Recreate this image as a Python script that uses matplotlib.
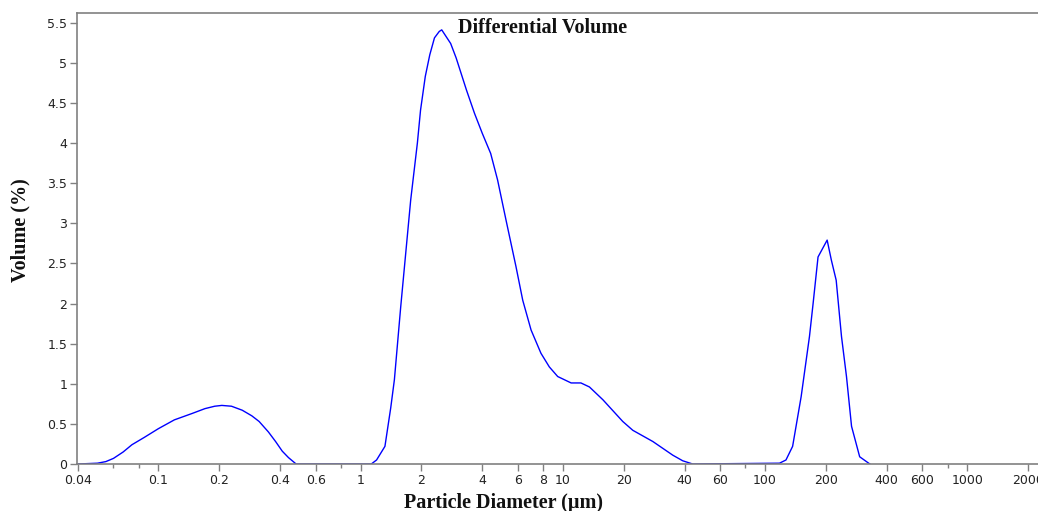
import numpy as np
import matplotlib.pyplot as plt
from matplotlib.ticker import FixedLocator, NullFormatter

# Diâmetro de partícula (µm) e volume diferencial (%)
diametro = [0.04, 0.05, 0.055, 0.06, 0.067, 0.074, 0.085, 0.1, 0.12, 0.147, 0.17, 0.19, 0.206,
            0.23, 0.26, 0.29, 0.315, 0.35, 0.38, 0.41, 0.44, 0.48,
            1.13, 1.2, 1.32, 1.41, 1.47, 1.58, 1.77, 1.91, 1.98, 2.09, 2.2, 2.32, 2.45, 2.52,
            2.79, 2.97, 3.34, 3.66, 4.0, 4.4, 4.76, 5.24, 5.87, 6.34, 6.97, 7.8,
            8.58, 9.44, 11.0, 12.3, 13.55, 15.8, 19.8, 22.2, 27.9, 35.0, 39.2, 43.9,
            118, 127, 137, 151, 166, 173, 183, 203, 213, 225, 239, 253, 268, 294, 330]
volume = [0.0, 0.01, 0.03, 0.07, 0.15, 0.24, 0.33, 0.44, 0.55, 0.63, 0.69, 0.72, 0.73,
          0.72, 0.67, 0.6, 0.53, 0.4, 0.28, 0.16, 0.08, 0.0,
          0.0, 0.05, 0.22, 0.7, 1.05, 1.96, 3.29, 4.0, 4.41, 4.83, 5.1, 5.31, 5.39, 5.41,
          5.24, 5.06, 4.66, 4.37, 4.12, 3.87, 3.54, 3.04, 2.46, 2.04, 1.67, 1.38,
          1.21, 1.09, 1.01, 1.01, 0.96, 0.80, 0.53, 0.42, 0.28, 0.11, 0.04, 0.0,
          0.01, 0.05, 0.22, 0.84, 1.59, 2.0, 2.58, 2.79, 2.54, 2.29, 1.59, 1.09, 0.47, 0.09, 0.0]

# Marcas do eixo x
x_maiores = [0.04, 0.1, 0.2, 0.4, 0.6, 1, 2, 4, 6, 8, 10, 20, 40, 60, 100, 200, 400, 600, 1000, 2000]
x_rotulos = ['0.04', '0.1', '0.2', '0.4', '0.6', '1', '2', '4', '6', '8', '10', '20', '40', '60',
             '100', '200', '400', '600', '1000', '2000']
x_menores = [0.06, 0.08, 0.8, 80, 800]
y_marcas = [0, 0.5, 1, 1.5, 2, 2.5, 3, 3.5, 4, 4.5, 5, 5.5]

cinza = '#808080'

fig = plt.figure(figsize=(10.38, 5.11), dpi=100)
ax = fig.add_axes([77 / 1038, 1 - 464 / 511, 1 - 77 / 1038, (464 - 13) / 511])

ax.plot(diametro, volume, color='#0000ff', linewidth=1.0)

ax.set_xscale('log')
ax.set_xlim(0.0396, 2240)
ax.set_ylim(0, 5.62)

ax.xaxis.set_major_locator(FixedLocator(x_maiores))
ax.set_xticklabels(x_rotulos)
ax.xaxis.set_minor_locator(FixedLocator(x_menores))
ax.xaxis.set_minor_formatter(NullFormatter())
ax.set_yticks(y_marcas)
ax.set_yticklabels(['%g' % v for v in y_marcas])

ax.tick_params(axis='both', which='major', direction='out', length=5, width=1,
               color=cinza, labelsize=9, labelcolor='#222222', pad=2)
ax.tick_params(axis='x', which='minor', direction='out', length=3, width=1, color=cinza)

for lado in ['left', 'bottom', 'top']:
    ax.spines[lado].set_color(cinza)
    ax.spines[lado].set_linewidth(1.2)
ax.spines['right'].set_visible(False)

fonte = dict(family='Liberation Serif', weight='bold', size=14.5, color='#111111')
fig.text(543 / 1038, 1 - 28 / 511, 'Differential Volume', ha='center', va='center', **fonte)
fig.text(503 / 1038, 1 - 503 / 511, 'Particle Diameter (µm)', ha='center', va='center', **fonte)
fig.text(20 / 1038, 1 - 230 / 511, 'Volume (%)', ha='center', va='center', rotation=90, **fonte)

fig.savefig('out.png', dpi=100)
